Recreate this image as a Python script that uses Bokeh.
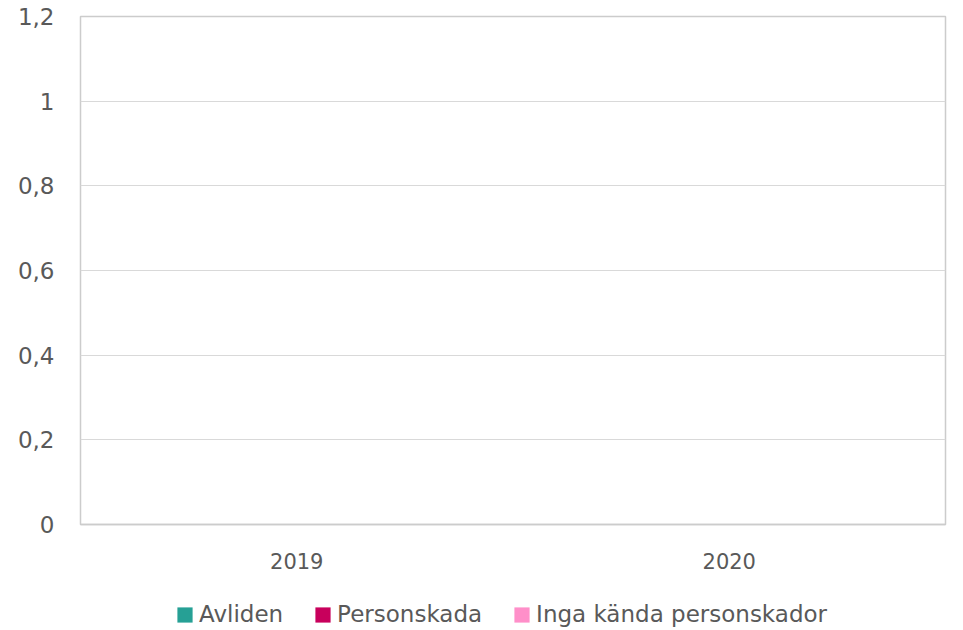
from bokeh.plotting import figure
from bokeh.layouts import column
from bokeh.models import FactorRange, Range1d, FixedTicker, CustomJSTickFormatter, Legend, LegendItem, ColumnDataSource
from bokeh.embed import file_html
from bokeh.resources import INLINE

years = ["2019", "2020"]
avliden = [0, 0]
personskada = [0, 0]
inga_kanda = [0, 0]
series_names = ["Avliden", "Personskada", "Inga kända personskador"]
colors = ["#26a095", "#c8005c", "#ff8fc9"]
y_ticks = [0, 0.2, 0.4, 0.6, 0.8, 1.0, 1.2]

FONT = "DejaVu Sans"
TEXT = "#595959"

source = ColumnDataSource(dict(year=years, a=avliden, p=personskada, i=inga_kanda))

p = figure(width=955, height=598, x_range=FactorRange(*years, range_padding=0),
           y_range=Range1d(0, 1.2), output_backend="svg", toolbar_location=None,
           min_border_left=80, min_border_right=10, min_border_top=16, min_border_bottom=74)

p.vbar_stack(["a", "p", "i"], x="year", width=0.5, source=source,
             color=colors, line_color=None)

p.outline_line_color = "#cccccc"
p.outline_line_width = 1.5

p.xgrid.grid_line_color = None
p.ygrid.grid_line_color = "#d9d9d9"
p.ygrid.grid_line_width = 1.2
p.yaxis.ticker = FixedTicker(ticks=y_ticks)
p.yaxis.formatter = CustomJSTickFormatter(code="var s = (Math.round(tick*10)/10).toString(); return s.replace('.', ',');")

for ax in (p.xaxis, p.yaxis):
    ax.major_tick_line_color = None
    ax.minor_tick_line_color = None
    ax.major_label_text_font = FONT
    ax.major_label_text_color = TEXT
p.xaxis.major_label_text_font_size = "21px"
p.yaxis.major_label_text_font_size = "23px"
p.yaxis.axis_line_color = None
p.xaxis.axis_line_color = "#cccccc"
p.xaxis.axis_line_width = 1.5
p.xaxis.major_label_standoff = 22
p.yaxis.major_label_standoff = 20

# legend strip below the chart (frame aligned with the main chart's frame)
lg = figure(width=955, height=32, x_range=FactorRange(*years), y_range=Range1d(0, 1.2),
            output_backend="svg", toolbar_location=None,
            min_border_left=80, min_border_right=10, min_border_top=0, min_border_bottom=0)
lg_renderers = lg.vbar_stack(["a", "p", "i"], x="year", width=0.5, source=source,
                             color=colors, line_color=None)
lg.axis.visible = False
lg.grid.grid_line_color = None
lg.outline_line_color = None

legend = Legend(items=[LegendItem(label=n, renderers=[r]) for n, r in zip(series_names, lg_renderers)],
                orientation="horizontal", location="center_left",
                label_text_font=FONT, label_text_font_size="23px", label_text_color=TEXT,
                glyph_width=19, glyph_height=19, spacing=30, label_standoff=5,
                border_line_color=None, background_fill_alpha=0, margin=95, padding=0)
lg.add_layout(legend)

layout = column(p, lg, spacing=0)
open("out.html", "w").write(file_html(layout, INLINE))
